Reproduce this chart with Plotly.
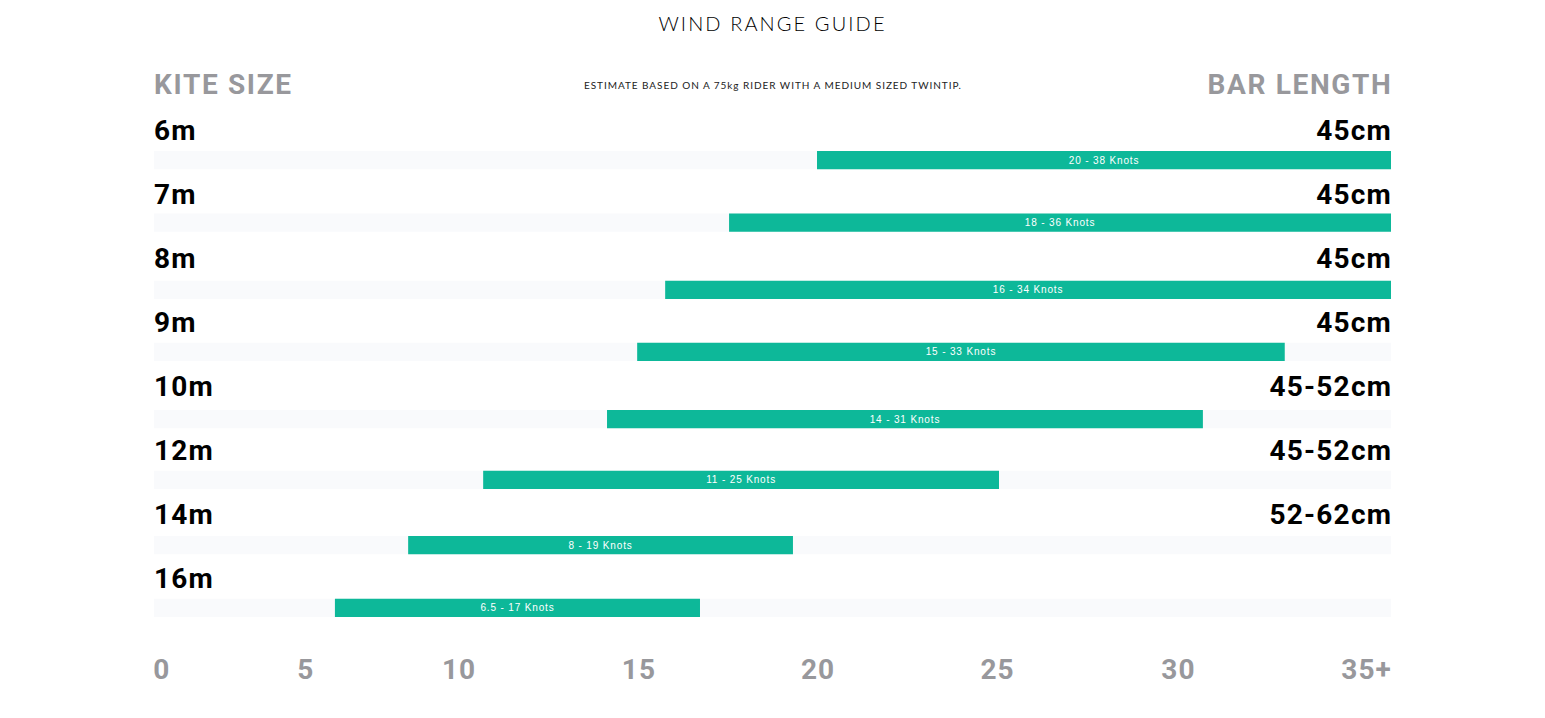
import plotly.graph_objects as go

kite_sizes = ["6m", "7m", "8m", "9m", "10m", "12m", "14m", "16m"]
bar_lengths = ["45cm", "45cm", "45cm", "45cm", "45-52cm", "45-52cm", "52-62cm", ""]
range_labels = ["20 - 38 Knots", "18 - 36 Knots", "16 - 34 Knots", "15 - 33 Knots",
                "14 - 31 Knots", "11 - 25 Knots", "8 - 19 Knots", "6.5 - 17 Knots"]
range_start = [19.97, 17.52, 15.74, 14.96, 14.12, 10.67, 8.58, 6.54]
range_end = [35.96, 35.96, 35.96, 33.0, 30.72, 25.04, 19.3, 16.71]
rows = [0, 0.98, 2.03, 3.0, 4.05, 5.0, 6.02, 7.0]
tick_labels = ["0", "5", "10", "15", "20", "25", "30", "35+"]
tick_positions = [1.72, 5.73, 10.0, 15.01, 20.0, 25.0, 30.04, 35.28]
AXIS_MIN, AXIS_MAX = 1.5, 35.96
LABEL_Y = -0.462
HEADER_Y = -1.18

HEAD = "Roboto"
GREY = "#98989c"
fig = go.Figure()
fig.add_bar(y=rows, x=[AXIS_MAX - AXIS_MIN] * len(rows), base=[AXIS_MIN] * len(rows),
            orientation="h", width=0.285, marker=dict(color="#f9fafc", line_width=0),
            hoverinfo="skip", showlegend=False)
fig.add_bar(y=rows, x=[e - s for s, e in zip(range_start, range_end)], base=range_start,
            orientation="h", width=0.285, marker=dict(color="#0db899", line_width=0),
            text=range_labels, textposition="inside", insidetextanchor="middle",
            textangle=0, constraintext="none",
            textfont=dict(family="Liberation Sans", size=10, color="white"),
            showlegend=False)

ann = []
for i, (k, b) in enumerate(zip(kite_sizes, bar_lengths)):
    ann.append(dict(x=AXIS_MIN, y=i + LABEL_Y, xref="x", yref="y", text=f"<b>{k}</b>", xanchor="left", align="left",
                    yanchor="middle", showarrow=False, xshift=-2,
                    font=dict(family=HEAD, size=28, color="black")))
    if b:
        ann.append(dict(x=AXIS_MAX, y=i + LABEL_Y, xref="x", yref="y", text=f"<b>{b}</b>", xanchor="right", align="right",
                        yanchor="middle", showarrow=False, xshift=3,
                        font=dict(family=HEAD, size=28, color="black")))
ann.append(dict(x=AXIS_MIN, y=HEADER_Y, xref="x", yref="y", text="<b>KITE SIZE</b>", xanchor="left", align="left",
                yanchor="middle", showarrow=False, xshift=-2,
                font=dict(family=HEAD, size=28, color=GREY)))
ann.append(dict(x=AXIS_MAX, y=HEADER_Y, xref="x", yref="y", text="<b>BAR LENGTH</b>", xanchor="right", align="right",
                yanchor="middle", showarrow=False, xshift=3,
                font=dict(family=HEAD, size=28, color=GREY)))
ann.append(dict(x=0.5, y=HEADER_Y, xref="paper", yref="y",
                text="ESTIMATE BASED ON A 75kg RIDER WITH A MEDIUM SIZED TWINTIP.",
                xanchor="center", align="center", yanchor="middle", showarrow=False,
                font=dict(family="Lato", size=10, color="#222222")))

fig.update_layout(
    width=1545, height=718, margin=dict(l=154, r=154, t=50, b=68),
    paper_bgcolor="white", plot_bgcolor="white", barmode="overlay",
    title=dict(text="WIND RANGE GUIDE", x=0.5, xanchor="center", y=1 - 24 / 718, yanchor="middle",
               font=dict(family="Lato", size=20, weight=300, color="black")),
    xaxis=dict(range=[AXIS_MIN, AXIS_MAX], tickmode="array", tickvals=tick_positions,
               ticktext=[f"<b>{t}</b>" for t in tick_labels],
               showgrid=False, zeroline=False, showline=False, ticks="",
               tickfont=dict(family=HEAD, size=28, color=GREY)),
    yaxis=dict(range=[7.66, -1.72], visible=False),
    annotations=ann,
)
post = """
document.body.style.margin='0';
document.querySelectorAll('.annotation-text').forEach(function(t){
  var s=t.textContent;
  if(s.indexOf('ESTIMATE')===0){t.style.letterSpacing='0.95px';}
  else if(s==='KITE SIZE'||s==='BAR LENGTH'){t.style.letterSpacing='1.65px';}
  else{t.style.letterSpacing='1.2px';}
});
document.querySelectorAll('.bartext text, text.bartext').forEach(function(t){t.style.letterSpacing='0.85px';});
document.querySelectorAll('.gtitle').forEach(function(t){t.style.letterSpacing='2.1px';});
document.querySelectorAll('.xtick text').forEach(function(t){t.style.letterSpacing='1.1px';});
"""
fig.write_html("out.html", post_script=post, config=dict(displayModeBar=False))
